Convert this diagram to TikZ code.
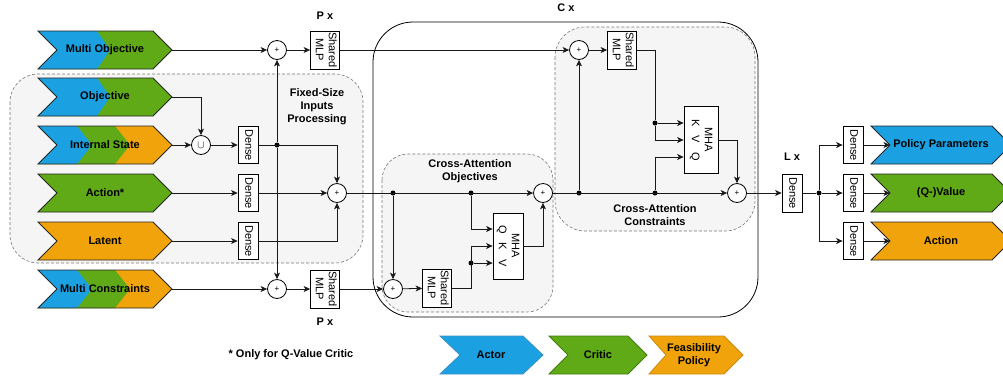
\documentclass[tikz,border=0pt]{standalone}
\usepackage{fontspec}
\setmainfont{Liberation Sans}
\usetikzlibrary{arrows.meta,calc}

\definecolor{actorblue}{HTML}{1BA1E2}
\definecolor{criticgreen}{HTML}{60A917}
\definecolor{feasorange}{HTML}{F0A30A}
\definecolor{actorline}{HTML}{3D8FC4}
\definecolor{criticline}{HTML}{3F7F12}
\definecolor{feasline}{HTML}{C98A10}
\definecolor{groupgray}{HTML}{F5F5F5}
\definecolor{groupline}{HTML}{777777}

% left x, body end x, mid y, notch depth, tip depth
\newcommand{\chevpath}[5]{(#1,#3-19) -- (#2,#3-19) -- (#2+#5,#3) -- (#2,#3+19) -- (#1,#3+19) -- (#1+#4,#3) -- cycle}
\newcommand{\sidetext}[1]{\rotatebox{-90}{\begin{tabular}{@{}c@{}}#1\end{tabular}}}

\begin{document}
\begin{tikzpicture}[x=1pt,y=-1pt,font=\fontsize{11}{13}\selectfont]
\tikzset{conn/.style={draw=black!90,line width=0.8pt}}
\tikzset{arr/.style={conn,-{Stealth[length=6.5pt,width=6pt,inset=1.8pt]}}}
\tikzset{chevborder/.style={draw=black!85,line width=0.8pt}}
\tikzset{group/.style={draw=groupline,fill=groupgray,line width=0.6pt,dash pattern=on 3pt off 2pt}}
\tikzset{sumnode/.style={circle,draw,fill=white,line width=0.8pt,minimum size=19pt,inner sep=0pt,font=\fontsize{8}{8}\selectfont}}
\tikzset{layerbox/.style={draw,fill=white,line width=0.8pt,inner sep=0pt}}
\tikzset{densebox/.style={layerbox,minimum width=20pt,minimum height=37pt}}
\tikzset{mlpbox/.style={layerbox,minimum width=29pt,minimum height=38pt}}
\tikzset{dot/.style={circle,fill=black,minimum size=5pt,inner sep=0pt}}
\tikzset{tag/.style={font=\fontsize{11}{13}\selectfont\bfseries,align=center}}

\useasboundingbox (0,0) rectangle (1003,376);

% groups
\draw[line width=0.8pt,rounded corners=40pt] (373,22) rectangle (758,317);
\path[group,rounded corners=28pt] (10,74) rectangle (363,263);
\path[group,rounded corners=26pt] (382,154) rectangle (553,312);
\path[group,rounded corners=30pt] (555,27) rectangle (755,231);

\node[tag] (fixlbl) at (317,107) {Fixed-Size\\Inputs\\Processing};
\node[tag] (caolbl) at (470,171) {Cross-Attention\\Objectives};
\node[tag] (caclbl) at (655,215) {Cross-Attention\\Constraints};
\node[tag] (ptop) at (325,16) {P x};
\node[tag] (pbot) at (325,322) {P x};
\node[tag] (clbl) at (566,8) {C x};
\node[tag] (llbl) at (792,157) {L x};

% input chevrons
\fill[criticgreen] \chevpath{38}{153}{50}{19}{19};
\fill[actorblue] \chevpath{38}{97}{50}{19}{13};
\draw[chevborder] \chevpath{38}{153}{50}{19}{19};
\node[tag] (mobj) at (105,50) {Multi Objective};
\coordinate (mobj-out) at (172,50);

\fill[criticgreen] \chevpath{38}{153}{97}{19}{19};
\fill[actorblue] \chevpath{38}{97}{97}{19}{13};
\draw[chevborder] \chevpath{38}{153}{97}{19}{19};
\node[tag] (obj) at (105,97) {Objective};
\coordinate (obj-out) at (172,97);

\fill[feasorange] \chevpath{38}{153}{145}{19}{19};
\fill[criticgreen] \chevpath{38}{115}{145}{19}{15};
\fill[actorblue] \chevpath{38}{77}{145}{19}{15};
\draw[chevborder] \chevpath{38}{153}{145}{19}{19};
\node[tag] (ist) at (105,145) {Internal State};
\coordinate (ist-out) at (172,145);

\fill[criticgreen] \chevpath{38}{153}{193}{19}{19};
\draw[chevborder] \chevpath{38}{153}{193}{19}{19};
\node[tag] (act) at (105,193) {Action*};
\coordinate (act-out) at (172,193);

\fill[feasorange] \chevpath{38}{153}{241}{19}{19};
\draw[chevborder] \chevpath{38}{153}{241}{19}{19};
\node[tag] (lat) at (105,241) {Latent};
\coordinate (lat-out) at (172,241);

\fill[feasorange] \chevpath{38}{153}{289}{19}{19};
\fill[criticgreen] \chevpath{38}{115}{289}{19}{15};
\fill[actorblue] \chevpath{38}{77}{289}{19}{15};
\draw[chevborder] \chevpath{38}{153}{289}{19}{19};
\node[tag] (mcon) at (105,289) {Multi Constraints};
\coordinate (mcon-out) at (172,289);

% output chevrons
\fill[actorblue] \chevpath{871}{992}{145}{19}{19};
\draw[chevborder] \chevpath{871}{992}{145}{19}{19};
\node[tag] (pp) at (941,145) {Policy Parameters};
\coordinate (pp-in) at (890,145);

\fill[criticgreen] \chevpath{871}{992}{193}{19}{19};
\draw[chevborder] \chevpath{871}{992}{193}{19}{19};
\node[tag] (qv) at (941,193) {(Q-)Value};
\coordinate (qv-in) at (890,193);

\fill[feasorange] \chevpath{871}{992}{241}{19}{19};
\draw[chevborder] \chevpath{871}{992}{241}{19}{19};
\node[tag] (oact) at (941,241) {Action};
\coordinate (oact-in) at (890,241);

% legend
\node[tag] (note) at (291,355) {* Only for Q-Value Critic};
\path[fill=actorblue,draw=actorline,line width=0.8pt] \chevpath{440}{523}{355}{20}{20};
\node[tag] (lgactor) at (491,355) {Actor};
\path[fill=criticgreen,draw=criticline,line width=0.8pt] \chevpath{549}{628}{355}{19}{19};
\node[tag] (lgcritic) at (598,355) {Critic};
\path[fill=feasorange,draw=feasline,line width=0.8pt] \chevpath{649}{724}{355}{17}{19};
\node[tag] (lgfeas) at (694,355) {Feasibility\\Policy};

% layers
\node[sumnode] (union) at (201,145) {\fontsize{11}{11}\selectfont$\cup$};
\node[densebox] (dense1) at (248,145) {\sidetext{Dense}};
\node[densebox] (dense2) at (248,193) {\sidetext{Dense}};
\node[densebox] (dense3) at (248,241) {\sidetext{Dense}};
\node[sumnode] (plusmo) at (277,50) {+};
\node[sumnode] (plusmc) at (277,289) {+};
\node[sumnode] (plusfix) at (337,193) {+};
\node[mlpbox] (mlpmo) at (325,50) {\sidetext{Shared\\MLP}};
\node[mlpbox] (mlpmc) at (325,289) {\sidetext{Shared\\MLP}};

\node[sumnode] (plusoin) at (393,289) {+};
\node[mlpbox] (mlpobj) at (437,288) {\sidetext{Shared\\MLP}};
\node[layerbox,minimum width=30pt,minimum height=66pt] (mhaobj) at (508,246) {\sidetext{MHA\\Q\hspace{9pt}K\hspace{9pt}V}};
\node[sumnode] (plusoout) at (543,193) {+};

\node[sumnode] (pluscin) at (579,50) {+};
\node[mlpbox] (mlpcon) at (622,50) {\sidetext{Shared\\MLP}};
\node[layerbox,minimum width=34pt,minimum height=67pt] (mhacon) at (701,140) {\sidetext{MHA\\K\hspace{9pt}V\hspace{9pt}Q}};
\node[sumnode] (pluscout) at (737,193) {+};

\node[densebox,minimum height=38pt] (denseL) at (792,193) {\sidetext{Dense}};
\node[densebox] (denseP) at (853,145) {\sidetext{Dense}};
\node[densebox] (denseV) at (853,193) {\sidetext{Dense}};
\node[densebox] (denseA) at (853,241) {\sidetext{Dense}};

\node[dot] (dfix) at (277,145) {};
\node[dot] (dobj1) at (393,193) {};
\node[dot] (dobj2) at (471,193) {};
\node[dot] (dobj3) at (471,263) {};
\node[dot] (dcon1) at (579,193) {};
\node[dot] (dcon2) at (655,193) {};
\node[dot] (dcon3) at (655,123) {};
\node[dot] (dout) at (819,193) {};

% fixed-size inputs
\draw[arr] (mobj-out) -- (plusmo);
\draw[arr] (plusmo) -- (mlpmo);
\draw[arr] (obj-out) -| (union);
\draw[arr] (ist-out) -- (union);
\draw[arr] (union) -- (dense1);
\draw[arr] (dense1) -| (plusfix);
\draw[arr] (dfix) -- (plusmo);
\draw[arr] (dfix) -- (plusmc);
\draw[arr] (act-out) -- (dense2);
\draw[arr] (dense2) -- (plusfix);
\draw[arr] (lat-out) -- (dense3);
\draw[arr] (dense3) -| (plusfix);
\draw[arr] (mcon-out) -- (plusmc);
\draw[arr] (plusmc) -- (mlpmc);

% cross-attention objectives
\draw[arr] (mlpmc) -- (plusoin);
\draw[arr] (plusfix) -- (plusoout);
\draw[arr] (dobj1) -- (plusoin);
\draw[arr] (plusoin) -- (mlpobj);
\draw[arr] (mlpobj.east) -| (dobj3 |- mhaobj.west) -- (mhaobj.west);
\draw[arr] (dobj3) -- (dobj3 -| mhaobj.west);
\draw[arr] (dobj2) |- ($(mhaobj.west)+(0,-17)$);
\draw[arr] (mhaobj.east) -| (plusoout);

% cross-attention constraints
\draw[arr] (mlpmo) -- (pluscin);
\draw[arr] (plusoout) -- (pluscout);
\draw[arr] (dcon1) -- (pluscin);
\draw[arr] (pluscin) -- (mlpcon);
\draw[arr] (mlpcon.east) -| (dcon3) -- (dcon3 -| mhacon.west);
\draw[arr] (dcon3) |- (mhacon.west);
\draw[arr] (dcon2) |- ($(mhacon.west)+(0,17)$);
\draw[arr] (mhacon.east) -| (pluscout);

% heads
\draw[arr] (pluscout) -- (denseL);
\draw[conn] (denseL) -- (dout);
\draw[arr] (dout) |- (denseP);
\draw[arr] (dout) -- (denseV);
\draw[arr] (dout) |- (denseA);
\draw[arr] (denseP) -- (pp-in);
\draw[arr] (denseV) -- (qv-in);
\draw[arr] (denseA) -- (oact-in);
\end{tikzpicture}
\end{document}
